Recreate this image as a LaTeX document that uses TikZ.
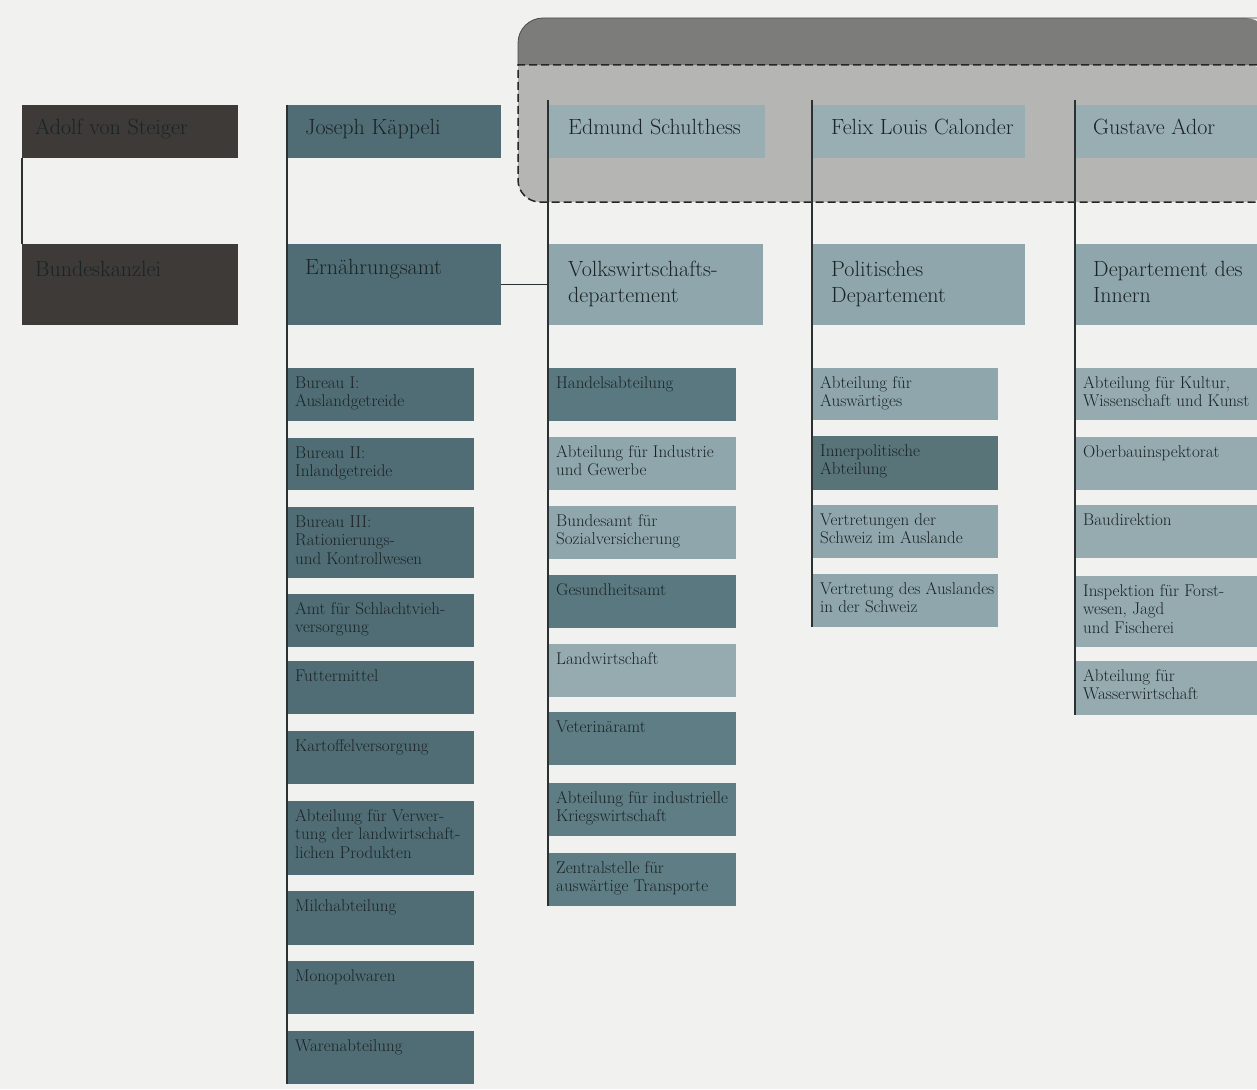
\documentclass[tikz,border=0pt]{standalone}
\usepackage{tikz}
\definecolor{bgc}{HTML}{F1F1EF}
\definecolor{cone}{HTML}{3D3A37}
\definecolor{ctwo}{HTML}{506D75}
\definecolor{clt}{HTML}{8FA7AC}
\definecolor{cltb}{HTML}{95ABB0}
\definecolor{cdk}{HTML}{597880}
\definecolor{cmd}{HTML}{5E7D85}
\definecolor{cinner}{HTML}{587479}
\definecolor{chead}{HTML}{98AEB3}
\definecolor{panhi}{HTML}{7C7C7B}
\definecolor{panlo}{HTML}{B5B5B3}
\definecolor{txtc}{HTML}{1A2326}
\definecolor{linec}{HTML}{2B3133}
\newcommand\hd[1]{\vtop{\fontsize{22}{26}\selectfont\halign{##\hfil\cr#1\crcr}}}
\newcommand\sm[1]{\vtop{\fontsize{17}{18.5}\selectfont\halign{##\hfil\cr#1\crcr}}}
% name, x, y, w, h, fill, text, dx, dy
\newcommand\HeadBox[9]{%
  \node[box, fill=#6, minimum width=#4pt, minimum height=#5pt] (#1) at (#2,#3) {};
  \node[txt] (#1-t) at ({#2+#8},{#3+#9}) {\hd{#7}};}
% name, x, y, w, h, fill, text
\newcommand\SubBox[7]{%
  \node[box, fill=#6, minimum width=#4pt, minimum height=#5pt] (#1) at (#2,#3) {};
  \node[txt] (#1-t) at ({#2+8},{#3+20}) {\sm{#7}};}
\begin{document}
\begin{tikzpicture}[x=1pt,y=-1pt,
  box/.style={rectangle, inner sep=0pt, outer sep=0pt, anchor=north west, draw=none},
  txt/.style={inner sep=0pt, anchor=base west, text=txtc},
  conn/.style={draw=linec, line width=1.1pt},
  dashline/.style={draw=black!85, line width=1.5pt, dash pattern=on 8pt off 4pt}]
\fill[bgc] (0,0) rectangle (1257,1089);
\useasboundingbox (0,0) rectangle (1257,1089);
% top panel
\fill[panlo] (1270,65) -- (518,65) [rounded corners=22pt] -- (518,202) -- (1270,202) -- cycle;
\fill[panhi] (1270,65) -- (518,65) [rounded corners=25pt] -- (518,18) -- (1270,18) [sharp corners] -- cycle;
\draw[black!70, line width=0.8pt] (518,65) [rounded corners=25pt] -- (518,18) -- (1270,18);
\draw[dashline] (1257,65) -- (518,65) [rounded corners=22pt] -- (518,202) -- (1257,202);
% column 1
\HeadBox{steiger}{22}{105}{216}{53}{cone}{Adolf von Steiger}{13}{30}
\HeadBox{bk}{22}{244}{216}{81}{cone}{Bundeskanzlei}{13}{32}
% column 2
\HeadBox{kap}{287}{105}{214}{53}{ctwo}{Joseph Käppeli}{18}{30}
\HeadBox{ern}{287}{244}{214}{81}{ctwo}{Ernährungsamt}{18}{30}
\SubBox{bone}{287}{368}{187}{53}{ctwo}{Bureau I:\cr Auslandgetreide}
\SubBox{btwo}{287}{438}{187}{52}{ctwo}{Bureau II:\cr Inlandgetreide}
\SubBox{bthree}{287}{507}{187}{71}{ctwo}{Bureau III:\cr Rationierungs-\cr und Kontrollwesen}
\SubBox{schl}{287}{594}{187}{53}{ctwo}{Amt für Schlachtvieh-\cr versorgung}
\SubBox{fut}{287}{661}{187}{53}{ctwo}{Futtermittel}
\SubBox{kart}{287}{731}{187}{53}{ctwo}{Kartoffelversorgung}
\SubBox{verw}{287}{801}{187}{74}{ctwo}{Abteilung für Verwer-\cr tung der landwirtschaft-\cr lichen Produkten}
\SubBox{milch}{287}{891}{187}{54}{ctwo}{Milchabteilung}
\SubBox{mono}{287}{961}{187}{53}{ctwo}{Monopolwaren}
\SubBox{waren}{287}{1031}{187}{53}{ctwo}{Warenabteilung}
% column 3
\HeadBox{sch}{548}{105}{217}{53}{chead}{Edmund Schulthess}{20}{30}
\HeadBox{vw}{548}{244}{215}{81}{clt}{Volkswirtschafts-\cr departement}{20}{32}
\SubBox{hand}{548}{368}{188}{53}{cdk}{Handelsabteilung}
\SubBox{ind}{548}{437}{188}{53}{clt}{Abteilung für Industrie\cr und Gewerbe}
\SubBox{bund}{548}{506}{188}{53}{clt}{Bundesamt für\cr Sozialversicherung}
\SubBox{ges}{548}{575}{188}{53}{cdk}{Gesundheitsamt}
\SubBox{land}{548}{644}{188}{53}{cltb}{Landwirtschaft}
\SubBox{vet}{548}{712}{188}{53}{cmd}{Veterinäramt}
\SubBox{krieg}{548}{783}{188}{53}{cmd}{Abteilung für industrielle\cr Kriegswirtschaft}
\SubBox{zent}{548}{853}{188}{53}{cmd}{Zentralstelle für\cr auswärtige Transporte}
% column 4
\HeadBox{cal}{812}{105}{213}{53}{chead}{Felix Louis Calonder}{19}{30}
\HeadBox{pol}{812}{244}{213}{81}{clt}{Politisches\cr Departement}{19}{32}
\SubBox{ausw}{812}{368}{186}{52}{clt}{Abteilung für\cr Auswärtiges}
\SubBox{innp}{812}{436}{186}{54}{cinner}{Innerpolitische\cr Abteilung}
\SubBox{vschw}{812}{505}{186}{53}{clt}{Vertretungen der\cr Schweiz im Auslande}
\SubBox{vausl}{812}{574}{186}{53}{clt}{Vertretung des Auslandes\cr in der Schweiz}
% column 5
\HeadBox{ador}{1075}{105}{190}{53}{chead}{Gustave Ador}{18}{30}
\HeadBox{inn}{1075}{244}{190}{81}{clt}{Departement des\cr Innern}{18}{32}
\SubBox{kult}{1075}{368}{190}{52}{cltb}{Abteilung für Kultur,\cr Wissenschaft und Kunst}
\SubBox{ober}{1075}{437}{190}{53}{cltb}{Oberbauinspektorat}
\SubBox{bau}{1075}{505}{190}{53}{cltb}{Baudirektion}
\SubBox{insp}{1075}{576}{190}{71}{cltb}{Inspektion für Forst-\cr wesen, Jagd\cr und Fischerei}
\SubBox{wass}{1075}{661}{190}{54}{cltb}{Abteilung für\cr Wasserwirtschaft}
% connectors
\draw[conn] (steiger.south west) -- (bk.north west);
\draw[conn] (kap.north west) -- (waren.south west);
\draw[conn] (ern.east) -- (vw.west);
\draw[conn] ([yshift=5pt]sch.north west) -- (zent.south west);
\draw[conn] ([yshift=5pt]cal.north west) -- (vausl.south west);
\draw[conn] ([yshift=5pt]ador.north west) -- (wass.south west);
\end{tikzpicture}
\end{document}
